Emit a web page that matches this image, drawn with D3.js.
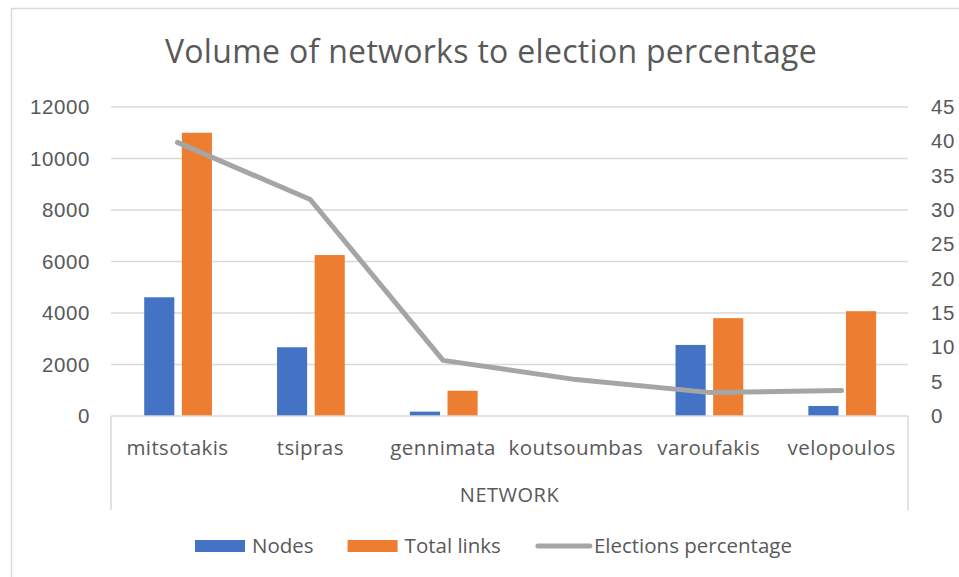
<!DOCTYPE html>
<html>
<head>
<meta charset="utf-8">
<script src="https://cdn.jsdelivr.net/npm/d3@7"></script>
<style>
  html, body { margin: 0; padding: 0; background: #fff; }
  svg { display: block; font-family: "Open Sans", "Noto Sans", sans-serif; }
</style>
</head>
<body>
<svg id="chart" width="959" height="577"></svg>
<script>
// Network size per candidate and their election result
const categories = ["mitsotakis", "tsipras", "gennimata", "koutsoumbas", "varoufakis", "velopoulos"];
const nodes = [4610, 2670, 170, 0, 2760, 390];
const totalLinks = [11000, 6250, 980, 0, 3800, 4070];
const electionsPct = [39.85, 31.53, 8.10, 5.30, 3.44, 3.70];
const leftTicks = [0, 2000, 4000, 6000, 8000, 10000, 12000];
const rightTicks = [0, 5, 10, 15, 20, 25, 30, 35, 40, 45];
const seriesNames = ["Nodes", "Total links", "Elections percentage"];

const colors = { "Nodes": "#4472c4", "Total links": "#ed7d31", "Elections percentage": "#a5a5a5" };
const textColor = "#595959";
const gridColor = "#d9d9d9";

const svg = d3.select("#chart");

// outer chart frame
svg.append("rect")
  .attr("x", 11.5).attr("y", 8.5)
  .attr("width", 1100).attr("height", 700)
  .attr("fill", "#fff").attr("stroke", gridColor).attr("stroke-width", 1.5);

const plot = { left: 111, right: 908, top: 107, bottom: 416 };

const x0 = d3.scaleBand().domain(categories).range([plot.left, plot.right]).padding(0);
const x1 = d3.scaleBand().domain(["Nodes", "Total links"])
  .range([x0.bandwidth() * 0.25, x0.bandwidth() * 0.76]).paddingInner(0.2);
const yL = d3.scaleLinear().domain([0, 12000]).range([plot.bottom, plot.top]);
const yR = d3.scaleLinear().domain([0, 45]).range([plot.bottom, plot.top]);

// title
svg.append("text")
  .attr("x", 491).attr("y", 63)
  .attr("text-anchor", "middle")
  .attr("font-size", 32).attr("letter-spacing", 0.3).attr("fill", textColor)
  .text("Volume of networks to election percentage");

// horizontal gridlines
svg.append("g").selectAll("line").data(leftTicks.filter(d => d > 0)).join("line")
  .attr("x1", plot.left).attr("x2", plot.right)
  .attr("y1", d => yL(d)).attr("y2", d => yL(d))
  .attr("stroke", gridColor).attr("stroke-width", 1.5);

// left axis labels
const leftAxis = d3.axisLeft(yL).tickValues(leftTicks).tickSize(0).tickPadding(21).tickFormat(d3.format("d"));
const gl = svg.append("g").attr("transform", `translate(${plot.left},0)`).call(leftAxis);
gl.select(".domain").remove();
gl.selectAll("text").attr("font-size", 20.5).attr("letter-spacing", 0.6).attr("fill", textColor).attr("font-family", null);

// right axis labels
const rightAxis = d3.axisRight(yR).tickValues(rightTicks).tickSize(0).tickPadding(23);
const gr = svg.append("g").attr("transform", `translate(${plot.right},0)`).call(rightAxis);
gr.select(".domain").remove();
gr.selectAll("text").attr("font-size", 20.5).attr("letter-spacing", 0.6).attr("fill", textColor).attr("font-family", null);

// bars
const groups = svg.append("g").selectAll("g").data(categories).join("g")
  .attr("transform", d => `translate(${x0(d)},0)`);
groups.selectAll("rect")
  .data((d, i) => [{ key: "Nodes", v: nodes[i] }, { key: "Total links", v: totalLinks[i] }])
  .join("rect")
  .attr("x", d => x1(d.key))
  .attr("width", x1.bandwidth())
  .attr("y", d => yL(d.v))
  .attr("height", d => plot.bottom - yL(d.v))
  .attr("fill", d => colors[d.key]);

// category axis box
const axisG = svg.append("g").attr("stroke", gridColor).attr("stroke-width", 1.5).attr("fill", "none");
axisG.append("line").attr("x1", plot.left).attr("x2", plot.right).attr("y1", plot.bottom).attr("y2", plot.bottom);
axisG.append("line").attr("x1", plot.left).attr("x2", plot.left).attr("y1", plot.bottom).attr("y2", 510);
axisG.append("line").attr("x1", plot.right).attr("x2", plot.right).attr("y1", plot.bottom).attr("y2", 510);

// category labels
svg.append("g").selectAll("text").data(categories).join("text")
  .attr("x", d => x0(d) + x0.bandwidth() / 2)
  .attr("y", 455)
  .attr("text-anchor", "middle")
  .attr("font-size", 20.5).attr("letter-spacing", 0.4).attr("fill", textColor)
  .text(d => d);

svg.append("text")
  .attr("x", (plot.left + plot.right) / 2).attr("y", 502)
  .attr("text-anchor", "middle")
  .attr("font-size", 20).attr("letter-spacing", 0.5).attr("fill", textColor)
  .text("NETWORK");

// election percentage line
const line = d3.line()
  .x((d, i) => x0(categories[i]) + x0.bandwidth() / 2)
  .y(d => yR(d));
svg.append("path")
  .datum(electionsPct)
  .attr("d", line)
  .attr("fill", "none")
  .attr("stroke", colors["Elections percentage"])
  .attr("stroke-width", 5)
  .attr("stroke-linejoin", "round")
  .attr("stroke-linecap", "round");

// legend
const legend = svg.append("g");
let lx = 195;
const ly = 546;
seriesNames.forEach((name, i) => {
  if (i < 2) {
    legend.append("rect").attr("x", lx).attr("y", ly - 6).attr("width", 50).attr("height", 12)
      .attr("fill", colors[name]);
  } else {
    legend.append("line").attr("x1", lx + 3).attr("x2", lx + 55).attr("y1", ly).attr("y2", ly)
      .attr("stroke", colors[name]).attr("stroke-width", 5).attr("stroke-linecap", "round");
  }
  const t = legend.append("text")
    .attr("x", lx + (i < 2 ? 57 : 59)).attr("y", ly + 7)
    .attr("font-size", 20.5).attr("fill", textColor)
    .text(name);
  lx = lx + (i < 2 ? 57 : 59) + t.node().getComputedTextLength() + 34;
});
</script>
</body>
</html>
